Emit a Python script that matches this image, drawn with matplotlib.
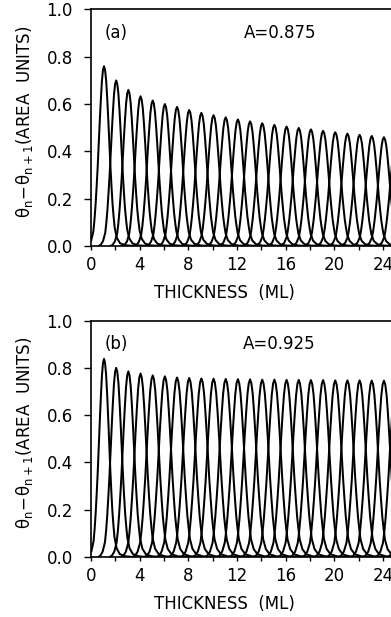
import numpy as np
import matplotlib.pyplot as plt

plt.rcParams['font.family'] = ['DejaVu Sans']
plt.rcParams['mathtext.fontset'] = 'dejavusans'

# layer index n of each peak (theta_n - theta_n+1)
layers = list(range(1, 29))

# peak heights
heights_a = [0.76, 0.70, 0.66, 0.633, 0.615, 0.60, 0.588, 0.575, 0.563, 0.553,
             0.544, 0.535, 0.527, 0.519, 0.512, 0.505, 0.499, 0.493, 0.487, 0.481,
             0.475, 0.470, 0.465, 0.460, 0.455, 0.450, 0.446, 0.442]
heights_b = [0.838, 0.80, 0.785, 0.776, 0.768, 0.764, 0.759, 0.757, 0.755, 0.754,
             0.753, 0.752, 0.751, 0.750, 0.750, 0.749, 0.749, 0.748, 0.748, 0.747,
             0.747, 0.747, 0.746, 0.746, 0.746, 0.745, 0.745, 0.745]

# relative peak widths (estimated from where neighbouring peaks cross)
widths_a = [0.88, 0.90, 0.92, 0.93, 0.94, 0.95, 0.96, 0.97, 0.97, 0.98,
            0.98, 0.98, 0.98, 0.98, 0.98, 0.98, 0.98, 0.98, 0.98, 0.98,
            0.98, 0.98, 0.98, 0.98, 0.98, 0.98, 0.98, 0.98]
widths_b = [0.86, 0.92, 0.96, 1.00, 1.03, 1.05, 1.06, 1.07, 1.08, 1.08,
            1.08, 1.08, 1.08, 1.08, 1.08, 1.08, 1.08, 1.08, 1.08, 1.08,
            1.08, 1.08, 1.08, 1.08, 1.08, 1.08, 1.08, 1.08]

profile_dt = [-1.6, -1.4, -1.2, -1.0, -0.9, -0.8, -0.7, -0.6, -0.5, -0.4, -0.3, -0.2, -0.1, 0.0,
              0.1, 0.2, 0.3, 0.4, 0.5, 0.6, 0.7, 0.8, 0.9, 1.0, 1.2, 1.5, 2.0, 2.8]
profile_fr = [0.0, 0.008, 0.03, 0.08, 0.14, 0.22, 0.32, 0.43, 0.56, 0.69, 0.81, 0.915, 0.978, 1.0,
              0.978, 0.92, 0.82, 0.70, 0.57, 0.44, 0.33, 0.23, 0.16, 0.10, 0.045, 0.015, 0.004, 0.0]

peak_shift = 0.07  # peaks sit slightly past the integer thickness

panels = [('(a)', 'A=0.875', heights_a, widths_a, 0.6013),
          ('(b)', 'A=0.925', heights_b, widths_b, 0.0972)]

fig = plt.figure(figsize=(3.91, 6.17), dpi=100)

x_max = 28
for tag, note, heights, widths, bottom in panels:
    ax = fig.add_axes([91 / 391, bottom, x_max * 12.17 / 391, 236.5 / 617])
    dt = np.array(profile_dt)
    fr = np.array(profile_fr)
    for n, h, w in zip(layers, heights, widths):
        t = n + peak_shift + w * dt
        y = h * fr
        keep = t >= 0
        ax.plot(t[keep], y[keep], color='black', lw=1.45)

    ax.set_xlim(0, x_max)
    ax.set_ylim(0, 1.0)
    ax.set_xticks(range(0, x_max + 1, 4))
    ax.set_xticks(range(0, x_max + 1, 2), minor=True)
    ax.set_yticks([0.0, 0.2, 0.4, 0.6, 0.8, 1.0])
    ax.set_yticklabels(['0.0', '0.2', '0.4', '0.6', '0.8', '1.0'])
    ax.tick_params(axis='x', which='both', direction='out', length=3, width=1.0,
                   labelsize=12, pad=4.5)
    ax.tick_params(axis='y', direction='out', length=5, width=1.0,
                   labelsize=12, pad=8)
    for s in ax.spines.values():
        s.set_linewidth(1.2)

    ax.text(1.15 / x_max, 0.90, tag, transform=ax.transAxes, fontsize=12,
            ha='left', va='center')
    ax.text(15.5 / x_max, 0.90, note, transform=ax.transAxes, fontsize=12,
            ha='center', va='center')
    ax.text(11.0 / x_max, -0.199, 'THICKNESS  (ML)', transform=ax.transAxes,
            fontsize=12, ha='center', va='center')
    ax.text(-0.194, 0.525,
            r'$\mathrm{\theta}_\mathrm{n}\!-\!\mathrm{\theta}_\mathrm{n+1}$(AREA  UNITS)',
            transform=ax.transAxes, fontsize=12, rotation=90,
            ha='center', va='center')

fig.savefig('out.png', dpi=100)
